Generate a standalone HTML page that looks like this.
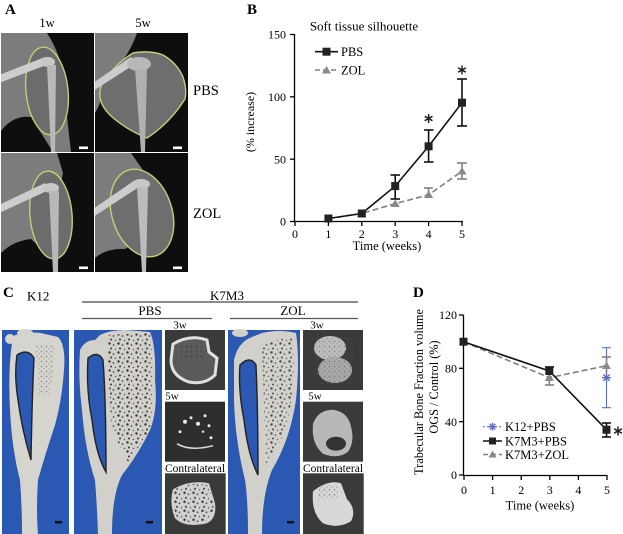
<!DOCTYPE html>
<html><head><meta charset="utf-8"><style>
html,body{margin:0;padding:0;background:#fff;}
svg{display:block;font-family:"Liberation Serif",serif;}
</style></head><body>
<svg width="623" height="534" viewBox="0 0 623 534" xmlns="http://www.w3.org/2000/svg">
<defs>
<clipPath id="c1"><rect x="0" y="0" width="93" height="119"/></clipPath>
<pattern id="dots" width="9" height="9" patternUnits="userSpaceOnUse">
<circle cx="1.5" cy="1.5" r="1.2" fill="#333"/>
<circle cx="5.5" cy="3" r="0.9" fill="#4a4a4a"/>
<circle cx="3" cy="6.5" r="1.0" fill="#3a3a3a"/>
<circle cx="7.5" cy="7.5" r="0.7" fill="#555"/>
</pattern>
<pattern id="dots2" width="5" height="5" patternUnits="userSpaceOnUse">
<circle cx="1.5" cy="1.5" r="0.9" fill="#444"/>
<circle cx="4" cy="3.8" r="0.7" fill="#666"/>
</pattern>
</defs>
<rect width="623" height="534" fill="#fff"/>

<!-- ============ PANEL A ============ -->
<text x="5" y="14" font-size="15" font-weight="bold">A</text>
<text x="47" y="27" font-size="12.5" text-anchor="middle">1w</text>
<text x="143" y="27" font-size="12.5" text-anchor="middle">5w</text>
<text x="193" y="95" font-size="14.5">PBS</text>
<text x="193" y="218" font-size="14.5">ZOL</text>

<!-- image 1 -->
<g transform="translate(1,33)" clip-path="url(#c1)">
<rect width="93" height="119" fill="#7c7c7c"/>
<path d="M46,0 Q54,12 60,30 L70,119 H93 V0 Z" fill="#0e0e0e"/>
<path d="M0,98 Q12,82 30,84 L52,119 H0 Z" fill="#0e0e0e"/>
<ellipse cx="46" cy="58" rx="21" ry="44" transform="rotate(-6 46 58)" fill="#6c6c6c" stroke="#c6cc78" stroke-width="1.4"/>
<path d="M-2,42 L44,24 L48,31 L-2,50 Z" fill="#cdcdcd"/>
<ellipse cx="47" cy="29" rx="7" ry="5" fill="#c8c8c8"/>
<path d="M46,32 L55,32 L54,119 L50,119 Z" fill="#b8b8b8"/>
<rect x="78" y="113.5" width="9" height="2.6" fill="#fff"/>
</g>
<!-- image 2 -->
<g transform="translate(95,33)" clip-path="url(#c1)">
<rect width="93" height="119" fill="#7c7c7c"/>
<path d="M42,0 H93 V119 H0 V80 Q5,72 8,60 L20,38 Q35,20 42,0 Z" fill="#0e0e0e"/>
<path d="M38,20 Q55,17 68,22 Q82,30 88,44 Q92,56 90,66 Q75,90 52,105 Q30,96 15,82 Q3,70 5,57 Q8,45 15,40 Q25,28 38,20 Z" fill="#6e6e6e" stroke="#c6cc78" stroke-width="1.4"/>
<path d="M-2,50 L36,24 L40,31 L-2,58 Z" fill="#cccccc"/>
<ellipse cx="44" cy="31" rx="12" ry="7" fill="#b8b8b8"/>
<path d="M40,36 L52,36 L50,119 L46,119 Z" fill="#b0b0b0"/>
<rect x="78" y="113.5" width="9" height="2.6" fill="#fff"/>
</g>
<!-- image 3 -->
<g transform="translate(1,153)" clip-path="url(#c1)">
<rect width="93" height="119" fill="#7c7c7c"/>
<path d="M56,0 H93 V119 H0 V100 Q12,88 30,86 L45,100 L62,20 Z" fill="#0e0e0e"/>
<ellipse cx="50" cy="62" rx="21" ry="44" transform="rotate(-5 50 62)" fill="#6c6c6c" stroke="#c6cc78" stroke-width="1.4"/>
<path d="M-2,52 L44,30 L48,37 L-2,60 Z" fill="#cdcdcd"/>
<ellipse cx="50" cy="35" rx="8" ry="5" fill="#c8c8c8"/>
<path d="M48,38 L58,38 L57,119 L52,119 Z" fill="#b8b8b8"/>
<rect x="78" y="113.5" width="9" height="2.6" fill="#fff"/>
</g>
<!-- image 4 -->
<g transform="translate(95,153)" clip-path="url(#c1)">
<rect width="93" height="119" fill="#7c7c7c"/>
<path d="M36,0 H93 V119 H0 V105 Q12,95 30,96 L40,90 L50,20 Z" fill="#0e0e0e"/>
<ellipse cx="47" cy="60" rx="30" ry="45" transform="rotate(-18 47 60)" fill="#6e6e6e" stroke="#c6cc78" stroke-width="1.4"/>
<path d="M-2,56 L40,27 L44,34 L-2,64 Z" fill="#cdcdcd"/>
<ellipse cx="46" cy="31" rx="9" ry="5" fill="#c8c8c8"/>
<path d="M42,34 L53,34 L51,119 L47,119 Z" fill="#bcbcbc"/>
<rect x="78" y="113.5" width="9" height="2.6" fill="#fff"/>
</g>

<!-- ============ PANEL B ============ -->
<text x="247" y="14" font-size="15" font-weight="bold">B</text>
<text x="364" y="30.5" font-size="13" text-anchor="middle">Soft tissue silhouette</text>
<g stroke="#000" stroke-width="1.3" fill="none">
<line x1="294.5" y1="34" x2="294.5" y2="221.5"/>
<line x1="294" y1="221.5" x2="463" y2="221.5"/>
<line x1="290" y1="34.5" x2="294.5" y2="34.5"/>
<line x1="290" y1="96.8" x2="294.5" y2="96.8"/>
<line x1="290" y1="159.2" x2="294.5" y2="159.2"/>
<line x1="290" y1="221.5" x2="294.5" y2="221.5"/>
<line x1="295" y1="221.5" x2="295" y2="226"/>
<line x1="328.4" y1="221.5" x2="328.4" y2="226"/>
<line x1="361.8" y1="221.5" x2="361.8" y2="226"/>
<line x1="395.2" y1="221.5" x2="395.2" y2="226"/>
<line x1="428.6" y1="221.5" x2="428.6" y2="226"/>
<line x1="462" y1="221.5" x2="462" y2="226"/>
</g>
<g font-size="12" text-anchor="end">
<text x="286" y="38.5">150</text>
<text x="286" y="101">100</text>
<text x="286" y="163.5">50</text>
<text x="286" y="225.5">0</text>
</g>
<g font-size="12" text-anchor="middle">
<text x="295" y="238">0</text>
<text x="328.4" y="238">1</text>
<text x="361.8" y="238">2</text>
<text x="395.2" y="238">3</text>
<text x="428.6" y="238">4</text>
<text x="462" y="238">5</text>
</g>
<text x="387" y="250" font-size="12.5" text-anchor="middle">Time (weeks)</text>
<text transform="translate(254,122) rotate(-90)" font-size="12" text-anchor="middle">(% increase)</text>

<!-- ZOL series -->
<g stroke="#808080" stroke-width="1.6" fill="none">
<polyline points="328.4,218.5 361.8,213.5 395.2,203.6 428.6,194.9 462,171.2" stroke-dasharray="6,3"/>
<line x1="428.6" y1="188" x2="428.6" y2="194.9"/><line x1="424" y1="188" x2="433" y2="188"/>
<line x1="462" y1="163" x2="462" y2="179"/><line x1="457" y1="163" x2="467" y2="163"/><line x1="457" y1="179" x2="467" y2="179"/>
</g>
<g fill="#8a8a8a">
<polygon points="328.4,214.5 333,221.5 323.8,221.5"/>
<polygon points="361.8,209.5 366.4,217 357.2,217"/>
<polygon points="395.2,199.5 399.8,207 390.6,207"/>
<polygon points="428.6,190.5 433.2,198 424,198"/>
<polygon points="462,167 466.6,174.5 457.4,174.5"/>
</g>
<!-- PBS series -->
<g stroke="#111" stroke-width="1.6" fill="none">
<polyline points="328.4,218.5 361.8,213.5 395.2,186.1 428.6,146.3 462,102.7"/>
<line x1="395.2" y1="175" x2="395.2" y2="199"/><line x1="390.5" y1="175" x2="400" y2="175"/><line x1="390.5" y1="199" x2="400" y2="199"/>
<line x1="428.6" y1="130" x2="428.6" y2="162"/><line x1="424" y1="130" x2="433.5" y2="130"/><line x1="424" y1="162" x2="433.5" y2="162"/>
<line x1="462" y1="79" x2="462" y2="126"/><line x1="457" y1="79" x2="467" y2="79"/><line x1="457" y1="126" x2="467" y2="126"/>
</g>
<g fill="#222">
<rect x="324.4" y="214.5" width="8" height="8"/>
<rect x="357.8" y="209.5" width="8" height="8"/>
<rect x="391.2" y="182.1" width="8" height="8"/>
<rect x="424.6" y="142.3" width="8" height="8"/>
<rect x="458" y="98.7" width="8" height="8"/>
</g>
<!-- asterisks -->
<g stroke="#222" stroke-width="1.5">
<g transform="translate(428.6,118.5)"><line x1="0" y1="-4.5" x2="0" y2="4.5"/><line x1="-3.9" y1="-2.2" x2="3.9" y2="2.2"/><line x1="-3.9" y1="2.2" x2="3.9" y2="-2.2"/></g>
<g transform="translate(462,70)"><line x1="0" y1="-4.5" x2="0" y2="4.5"/><line x1="-3.9" y1="-2.2" x2="3.9" y2="2.2"/><line x1="-3.9" y1="2.2" x2="3.9" y2="-2.2"/></g>
</g>
<!-- legend B -->
<line x1="315" y1="51.7" x2="338" y2="51.7" stroke="#111" stroke-width="1.6"/>
<rect x="322.5" y="47.7" width="8" height="8" fill="#222"/>
<text x="341" y="56" font-size="12.5">PBS</text>
<line x1="315" y1="70" x2="338" y2="70" stroke="#808080" stroke-width="1.6" stroke-dasharray="5,3"/>
<polygon points="326.5,66 331,73.5 322,73.5" fill="#8a8a8a"/>
<text x="341" y="74.5" font-size="12.5">ZOL</text>

<!-- ============ PANEL C ============ -->
<text x="3" y="297" font-size="15" font-weight="bold">C</text>
<text x="27" y="300.5" font-size="13">K12</text>
<text x="227" y="300" font-size="13" text-anchor="middle">K7M3</text>
<line x1="82" y1="302" x2="358" y2="302" stroke="#444" stroke-width="1.3"/>
<text x="150" y="315" font-size="13" text-anchor="middle">PBS</text>
<text x="293" y="315" font-size="13" text-anchor="middle">ZOL</text>
<line x1="82" y1="318.5" x2="212" y2="318.5" stroke="#555" stroke-width="1.3"/>
<line x1="230" y1="318.5" x2="358" y2="318.5" stroke="#555" stroke-width="1.3"/>

<!-- K12 bone -->
<rect x="2" y="330" width="67" height="204" fill="#2a58b2"/>
<path d="M12,343 Q10,335 20,334 Q35,331 45,334 L58,337 Q66,345 64,370 Q62,400 55,425 Q45,455 38,480 Q36,510 38,534 L22,534 Q22,505 20,480 Q12,450 10,410 Q8,370 12,343 Z" fill="#d6d4ce"/>
<circle cx="10" cy="339" r="5" fill="#d6d4ce"/>
<ellipse cx="25" cy="333" rx="8" ry="4" fill="#d6d4ce"/>
<path d="M17,355 Q28,348 34,358 Q32,400 31,460 Q22,430 18,400 Q14,375 17,355 Z" fill="#2a58b2" stroke="#222" stroke-width="1.4"/>
<path d="M36,345 L55,345 L50,395 L38,395 Z" fill="url(#dots2)" opacity="0.45"/>
<rect x="55" y="521" width="7" height="2.5" fill="#111"/>

<!-- PBS bone -->
<rect x="74" y="330" width="88" height="204" fill="#2a58b2"/>
<path d="M80,350 Q85,340 95,340 L100,335 Q110,330 125,330 L150,332 Q156,345 155,380 Q158,410 150,430 Q138,455 122,475 Q112,495 112,534 L98,534 Q97,505 95,480 Q85,450 82,410 Q78,380 80,350 Z" fill="#d2d0ca"/>
<path d="M88,358 Q98,350 103,360 Q106,400 106,472 Q96,455 92,420 Q86,390 88,358 Z" fill="#2a58b2" stroke="#222" stroke-width="1.4"/>
<path d="M108,335 L150,333 Q156,380 150,430 L128,462 L112,430 Q108,380 108,335 Z" fill="url(#dots)"/>
<rect x="146" y="521" width="7" height="2.5" fill="#111"/>

<!-- ZOL bone -->
<rect x="228" y="330" width="72" height="204" fill="#2a58b2"/>
<path d="M234,360 Q238,342 252,337 L262,333 Q280,329 296,333 Q300,360 296,400 Q290,440 272,470 Q262,495 262,534 L248,534 Q248,500 245,480 Q235,440 234,400 Z" fill="#d2d0ca"/>
<ellipse cx="240" cy="333" rx="8" ry="4" fill="#d2d0ca"/>
<path d="M240,365 Q250,355 256,365 Q258,410 258,475 Q248,455 244,420 Q238,390 240,365 Z" fill="#2a58b2" stroke="#222" stroke-width="1.4"/>
<path d="M262,345 L292,336 Q297,380 286,430 L266,468 Z" fill="url(#dots)" opacity="0.85"/>
<rect x="287" y="521" width="7" height="2.5" fill="#111"/>

<!-- thumbnails PBS -->
<text x="180" y="328.5" font-size="11" text-anchor="middle">3w</text>
<text x="172" y="399.5" font-size="11" text-anchor="middle">5w</text>
<text x="195" y="472" font-size="11.5" text-anchor="middle">Contralateral</text>
<g transform="translate(165,330)">
<rect width="60" height="60" fill="#3a3a3a"/>
<path d="M8,14 Q25,4 42,10 L44,22 L52,28 L50,45 Q40,55 24,52 Q6,46 6,30 Z" fill="#5a5a5a" stroke="#e0e0e0" stroke-width="3"/>
<path d="M12,14 L40,12 L38,30 L14,28 Z" fill="url(#dots2)"/>
</g>
<g transform="translate(165,401.7)">
<rect width="60" height="60" fill="#2e2e2e"/>
<g fill="#e8e8e8">
<circle cx="20" cy="20" r="2"/><circle cx="26" cy="16" r="1.5"/><circle cx="33" cy="22" r="2"/><circle cx="40" cy="14" r="1.5"/>
<circle cx="44" cy="24" r="1.5"/><circle cx="15" cy="30" r="1.5"/><circle cx="38" cy="30" r="1.2"/><circle cx="46" cy="36" r="1.5"/>
</g>
<path d="M12,42 Q25,50 48,44" stroke="#ddd" stroke-width="1.5" fill="none"/>
</g>
<g transform="translate(165,473.3)">
<rect width="60.7" height="60.7" fill="#3a3a3a"/>
<path d="M8,16 Q25,6 44,10 L50,30 Q52,45 42,50 Q20,55 10,45 Q4,30 8,16 Z" fill="#d0d0d0"/>
<path d="M10,16 Q25,8 44,12 L48,30 Q50,44 40,48 Q20,52 12,44 Q6,30 10,16 Z" fill="url(#dots)"/>
</g>

<!-- thumbnails ZOL -->
<text x="317" y="328.5" font-size="11" text-anchor="middle">3w</text>
<text x="315" y="399.5" font-size="11" text-anchor="middle">5w</text>
<text x="333" y="472" font-size="11.5" text-anchor="middle">Contralateral</text>
<g transform="translate(303,330)">
<rect width="60" height="60" fill="#3a3a3a"/>
<ellipse cx="27" cy="18" rx="16" ry="12" fill="#bdbdbd"/>
<ellipse cx="32" cy="40" rx="17" ry="13" fill="#a8a8a8"/>
<rect x="10" y="8" width="40" height="46" fill="url(#dots2)" opacity="0.4"/>
</g>
<g transform="translate(303,401.7)">
<rect width="60" height="60" fill="#3a3a3a"/>
<path d="M10,22 Q15,8 30,8 Q45,10 48,25 Q52,40 45,50 Q35,58 20,52 Q8,42 10,22 Z" fill="#b8b8b8"/>
<ellipse cx="33" cy="42" rx="10" ry="7" fill="#333"/>
</g>
<g transform="translate(303,473.3)">
<rect width="60.7" height="60.7" fill="#3a3a3a"/>
<path d="M10,18 Q25,6 38,10 L44,26 Q54,36 48,48 Q35,56 20,50 Q8,40 10,18 Z" fill="#d8d8d8"/>
<rect x="15" y="12" width="20" height="14" fill="url(#dots2)" opacity="0.5"/>
</g>

<!-- ============ PANEL D ============ -->
<text x="413" y="297" font-size="15" font-weight="bold">D</text>
<text transform="translate(423,392) rotate(-90)" font-size="12.3" text-anchor="middle">Trabecular Bone Fraction volume</text>
<text transform="translate(438,387) rotate(-90)" font-size="12.3" text-anchor="middle">OGS / Control (%)</text>
<g stroke="#000" stroke-width="1.3" fill="none">
<line x1="463.5" y1="315" x2="463.5" y2="475.5"/>
<line x1="463" y1="475.5" x2="607.5" y2="475.5"/>
<line x1="459" y1="315" x2="463.5" y2="315"/>
<line x1="459" y1="368.3" x2="463.5" y2="368.3"/>
<line x1="459" y1="421.7" x2="463.5" y2="421.7"/>
<line x1="459" y1="475" x2="463.5" y2="475"/>
<line x1="464" y1="475.5" x2="464" y2="480"/>
<line x1="492.6" y1="475.5" x2="492.6" y2="480"/>
<line x1="521.2" y1="475.5" x2="521.2" y2="480"/>
<line x1="549.8" y1="475.5" x2="549.8" y2="480"/>
<line x1="578.4" y1="475.5" x2="578.4" y2="480"/>
<line x1="607" y1="475.5" x2="607" y2="480"/>
</g>
<g font-size="12" text-anchor="end">
<text x="457" y="319">120</text>
<text x="457" y="372.5">80</text>
<text x="457" y="425.8">40</text>
<text x="457" y="479">0</text>
</g>
<g font-size="12" text-anchor="middle">
<text x="464" y="494">0</text>
<text x="492.6" y="494">1</text>
<text x="521.2" y="494">2</text>
<text x="549.8" y="494">3</text>
<text x="578.4" y="494">4</text>
<text x="607" y="494">5</text>
</g>
<text x="540" y="509.5" font-size="12.5" text-anchor="middle">Time (weeks)</text>

<!-- K12 blue -->
<g stroke="#5f6fc0" stroke-width="1.1" fill="none">
<line x1="606.5" y1="347.7" x2="606.5" y2="407.7"/><line x1="602" y1="347.7" x2="611" y2="347.7"/><line x1="602" y1="407.7" x2="611" y2="407.7"/>
</g>
<!-- ZOL D -->
<g stroke="#808080" stroke-width="1.6" fill="none">
<polyline points="463.5,341.7 549.3,377.7 606.5,365.7" stroke-dasharray="6,3"/>
<line x1="549.3" y1="371" x2="549.3" y2="385"/><line x1="545" y1="385" x2="554" y2="385"/>
<line x1="606.5" y1="357" x2="606.5" y2="373"/><line x1="602" y1="357" x2="611" y2="357"/>
</g>
<g fill="#8a8a8a">
<polygon points="463.5,337.5 468,345 459,345"/>
<polygon points="549.3,373.5 553.8,381 544.8,381"/>
<polygon points="606.5,361.5 611,369 602,369"/>
</g>
<!-- PBS D -->
<g stroke="#111" stroke-width="1.6" fill="none">
<polyline points="463.5,341.7 549.3,371 606.5,429.7"/>
<line x1="545" y1="367" x2="554" y2="367"/><line x1="549.3" y1="367" x2="549.3" y2="375"/>
<line x1="606.5" y1="423" x2="606.5" y2="437"/><line x1="602" y1="423" x2="611" y2="423"/><line x1="602" y1="437" x2="611" y2="437"/>
</g>
<g fill="#222">
<rect x="459.5" y="337.7" width="8" height="8"/>
<rect x="545.3" y="367" width="8" height="8"/>
<rect x="602.5" y="425.7" width="8" height="8"/>
</g>
<g stroke="#5f6fc0" stroke-width="1.4" transform="translate(606.5,377.7)">
<line x1="0" y1="-4.5" x2="0" y2="4.5"/><line x1="-4.5" y1="0" x2="4.5" y2="0"/><line x1="-3.2" y1="-3.2" x2="3.2" y2="3.2"/><line x1="-3.2" y1="3.2" x2="3.2" y2="-3.2"/>
</g>
<g stroke="#222" stroke-width="1.5" transform="translate(618,431)">
<line x1="0" y1="-4.5" x2="0" y2="4.5"/><line x1="-3.9" y1="-2.2" x2="3.9" y2="2.2"/><line x1="-3.9" y1="2.2" x2="3.9" y2="-2.2"/>
</g>
<!-- legend D -->
<line x1="483" y1="426.7" x2="502" y2="426.7" stroke="#5f6fc0" stroke-width="1.2" stroke-dasharray="2,2"/>
<g stroke="#5f6fc0" stroke-width="1.4" transform="translate(492.5,426.7)">
<line x1="0" y1="-4" x2="0" y2="4"/><line x1="-4" y1="0" x2="4" y2="0"/><line x1="-2.8" y1="-2.8" x2="2.8" y2="2.8"/><line x1="-2.8" y1="2.8" x2="2.8" y2="-2.8"/>
</g>
<text x="505" y="431" font-size="12.5">K12+PBS</text>
<line x1="483" y1="441" x2="502" y2="441" stroke="#111" stroke-width="1.6"/>
<rect x="489" y="437.5" width="7" height="7" fill="#222"/>
<text x="505" y="445.3" font-size="12.5">K7M3+PBS</text>
<line x1="483" y1="454.5" x2="502" y2="454.5" stroke="#808080" stroke-width="1.6" stroke-dasharray="5,3"/>
<polygon points="492.5,450.5 496.5,457.5 488.5,457.5" fill="#8a8a8a"/>
<text x="505" y="459" font-size="12.5">K7M3+ZOL</text>
</svg>
</body></html>
